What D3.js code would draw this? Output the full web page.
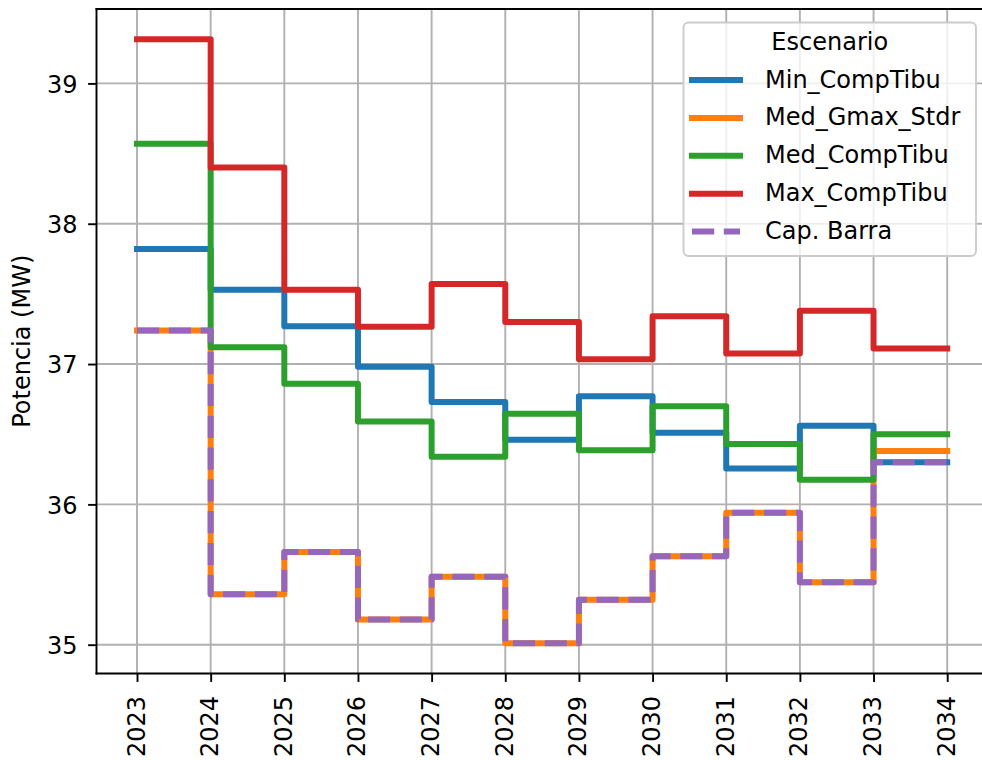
<!DOCTYPE html>
<html>
<head>
<meta charset="utf-8">
<script src="https://cdn.jsdelivr.net/npm/d3@7"></script>
<style>
  html, body { margin: 0; padding: 0; background: #fff; overflow: hidden; }
  svg { display: block; font-family: "DejaVu Sans", sans-serif; }
</style>
</head>
<body>
<svg id="chart" width="982" height="760"></svg>
<script>
// ---- Data ----
const years = [2023, 2024, 2025, 2026, 2027, 2028, 2029, 2030, 2031, 2032, 2033, 2034];
const minCompTibu  = [37.82, 37.53, 37.27, 36.98, 36.73, 36.46, 36.77, 36.51, 36.255, 36.56, 36.30, 36.30];
const medGmaxStdr  = [37.24, 35.36, 35.66, 35.18, 35.485, 35.01, 35.32, 35.63, 35.94, 35.445, 36.38, 36.38];
const medCompTibu  = [38.57, 37.12, 36.86, 36.59, 36.34, 36.645, 36.385, 36.70, 36.43, 36.175, 36.50, 36.50];
const maxCompTibu  = [39.315, 38.40, 37.53, 37.265, 37.57, 37.30, 37.035, 37.34, 37.075, 37.38, 37.11, 37.11];
const capBarra     = [37.24, 35.36, 35.66, 35.18, 35.485, 35.01, 35.32, 35.63, 35.94, 35.445, 36.30, 36.30];
const seriesNames  = ["Min_CompTibu", "Med_Gmax_Stdr", "Med_CompTibu", "Max_CompTibu", "Cap. Barra"];
const seriesColors = ["#1f77b4", "#ff7f0e", "#2ca02c", "#d62728", "#9467bd"];
const yTicks = [35, 36, 37, 38, 39];
const legendTitle = "Escenario";
const yLabel = "Potencia (MW)";

const allSeries = [minCompTibu, medGmaxStdr, medCompTibu, maxCompTibu, capBarra];

(function () {
// ---- Layout ----
const pL = 96.5, pR = 987.7, pT = 9, pB = 673.5;
const FS = 24;
const svg = d3.select("#chart");

const allVals = allSeries.flat();
const yMin = d3.min(allVals), yMax = d3.max(allVals);
const yPad = (yMax - yMin) * 0.05;
const xPad = (years[years.length - 1] - years[0]) * 0.05;

const x = d3.scaleLinear().domain([years[0] - xPad, years[years.length - 1] + xPad]).range([pL, pR]);
const y = d3.scaleLinear().domain([yMin - yPad, yMax + yPad]).range([pB, pT]);

svg.append("rect").attr("width", 982).attr("height", 760).attr("fill", "#fff");

svg.append("clipPath").attr("id", "plotclip").append("rect")
  .attr("x", pL).attr("y", pT).attr("width", pR - pL).attr("height", pB - pT);

// grid
const grid = svg.append("g");
years.forEach(v => {
  grid.append("line").attr("x1", x(v)).attr("x2", x(v)).attr("y1", pT).attr("y2", pB)
    .attr("stroke", "#b0b0b0").attr("stroke-width", 1.9);
});
yTicks.forEach(v => {
  grid.append("line").attr("x1", pL).attr("x2", pR).attr("y1", y(v)).attr("y2", y(v))
    .attr("stroke", "#b0b0b0").attr("stroke-width", 1.9);
});

// lines
const line = d3.line().x((d, i) => x(years[i])).y(d => y(d)).curve(d3.curveStepAfter);
const lw = 6;
const plot = svg.append("g").attr("clip-path", "url(#plotclip)");
allSeries.forEach((s, k) => {
  const p = plot.append("path").attr("d", line(s)).attr("fill", "none")
    .attr("stroke", seriesColors[k]).attr("stroke-width", lw)
    .attr("stroke-linejoin", "round");
  if (k === 4) {
    p.attr("stroke-dasharray", `${3.7 * lw},${1.6 * lw}`).attr("stroke-linecap", "butt");
  } else {
    p.attr("stroke-linecap", "square");
  }
});

// axes
const xAxis = d3.axisBottom(x).tickValues(years).tickFormat(d3.format("d")).tickSize(8.4).tickPadding(8);
const yAxis = d3.axisLeft(y).tickValues(yTicks).tickFormat(d3.format("d")).tickSize(8.4).tickPadding(8);

const gx = svg.append("g").attr("transform", `translate(0,${pB})`).call(xAxis);
gx.select(".domain").remove();
gx.selectAll(".tick line").attr("stroke", "#000").attr("stroke-width", 1.9);
gx.selectAll(".tick text")
  .attr("font-size", FS).attr("fill", "#000")
  .attr("font-family", "DejaVu Sans")
  .attr("text-anchor", "end")
  .attr("dy", null)
  .attr("y", null)
  .attr("transform", "translate(7,22.5) rotate(-90)");

const gy = svg.append("g").attr("transform", `translate(${pL},0)`).call(yAxis);
gy.select(".domain").remove();
gy.selectAll(".tick line").attr("stroke", "#000").attr("stroke-width", 1.9);
gy.selectAll(".tick text").attr("font-size", FS).attr("fill", "#000")
  .attr("font-family", "DejaVu Sans")
  .attr("x", -19).attr("dy", "0.36em");

// spines (left, top, bottom; right spine lies beyond the canvas)
const sp = svg.append("g").attr("stroke", "#000").attr("stroke-width", 1.9).attr("stroke-linecap", "square");
sp.append("line").attr("x1", pL).attr("x2", pL).attr("y1", pT).attr("y2", pB);
sp.append("line").attr("x1", pL).attr("x2", 982).attr("y1", pT).attr("y2", pT);
sp.append("line").attr("x1", pL).attr("x2", 982).attr("y1", pB).attr("y2", pB);

// y label
svg.append("text").attr("transform", `translate(30,${(pT + pB) / 2}) rotate(-90)`)
  .attr("text-anchor", "middle").attr("font-size", FS).attr("fill", "#000").text(yLabel);

// legend
const lg = svg.append("g");
const lx = 683.5, ly = 22.5, lwid = 292.5, lht = 233.5;
lg.append("rect").attr("x", lx).attr("y", ly).attr("width", lwid).attr("height", lht)
  .attr("rx", 5).attr("ry", 5)
  .attr("fill", "#fff").attr("fill-opacity", 0.8)
  .attr("stroke", "#cccccc").attr("stroke-width", 1.9);
lg.append("text").attr("x", lx + lwid / 2).attr("y", 50).attr("text-anchor", "middle")
  .attr("font-size", FS).attr("fill", "#000").text(legendTitle);
seriesNames.forEach((name, k) => {
  const yy = 80 + k * 37.9;
  const hl = lg.append("line").attr("x1", 692).attr("x2", 740).attr("y1", yy).attr("y2", yy)
    .attr("stroke", seriesColors[k]).attr("stroke-width", lw);
  if (k === 4) hl.attr("stroke-dasharray", `${3.7 * lw},${1.6 * lw}`).attr("stroke-linecap", "butt");
  else hl.attr("stroke-linecap", "square");
  lg.append("text").attr("x", 765).attr("y", yy + 7.5).attr("font-size", FS).attr("fill", "#000").text(name);
});
})();
</script>
</body>
</html>
